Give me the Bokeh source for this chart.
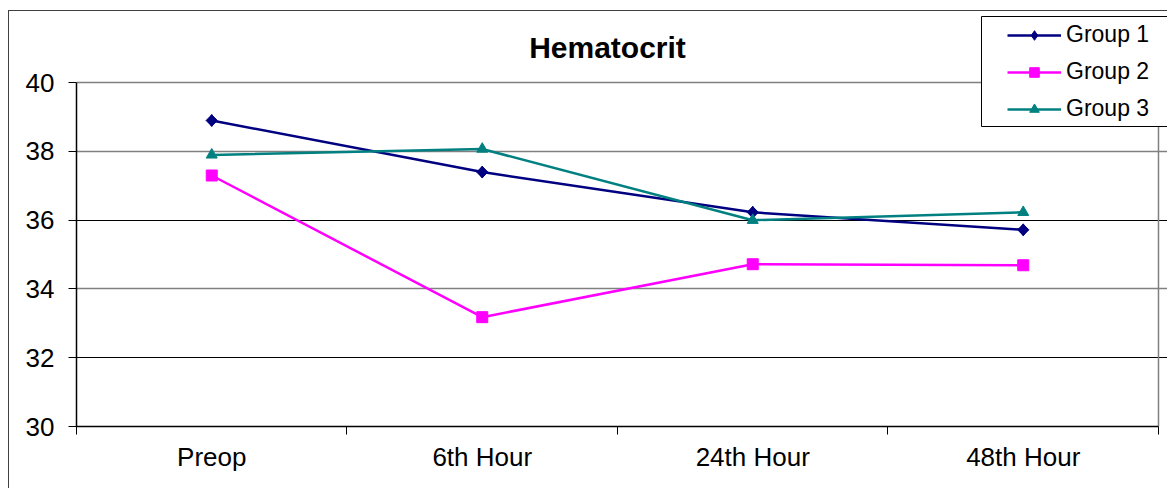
from bokeh.plotting import figure
from bokeh.models import FixedTicker, Grid, Legend, LegendItem, Range1d, Label, BoxAnnotation
from bokeh.embed import file_html
from bokeh.resources import INLINE

categories = ["Preop", "6th Hour", "24th Hour", "48th Hour"]
group1 = [38.9, 37.4, 36.23, 35.72]
group2 = [37.3, 33.18, 34.72, 34.69]
group3 = [37.9, 38.07, 36.0, 36.23]
y_ticks = [30, 32, 34, 36, 38, 40]
title_text = "Hematocrit"

FONT = "Liberation Sans"
n = len(categories)
xs = [i + 0.5 for i in range(n)]

# layout (page pixels)
OX, OY = 9, 11            # canvas origin on the page
FR_L, FR_B = 76, 425      # frame left / bottom
AX_T, AX_R = 82, 1157     # top (y=40) and right (x=n) of plot area
W, H = 1167 - OX + 1, 488 - OY + 1
ymin, ymax = y_ticks[0], y_ticks[-1]
ppu_y = (FR_B - AX_T) / (ymax - ymin)
ppu_x = (AX_R - FR_L) / n
y_end = ymax + (AX_T - OY) / ppu_y
x_end = n + (1167 - AX_R) / ppu_x

p = figure(width=W, height=H, output_backend="svg", toolbar_location=None,
           x_range=Range1d(0, x_end), y_range=Range1d(ymin, y_end),
           min_border_left=FR_L - OX, min_border_right=0, min_border_top=0,
           min_border_bottom=488 - FR_B)
p.title = None
p.background_fill_color = "white"
p.border_fill_color = "white"
p.outline_line_color = None
p.styles = {"margin-left": "8px", "margin-top": "10px",
            "border-left": "1px solid #404040", "border-top": "1px solid #404040"}

p.xgrid.visible = False
p.ygrid.visible = False
p.add_layout(Grid(dimension=1, ticker=FixedTicker(ticks=[34, 38, 40]), bounds=(0, n),
                  grid_line_color="#808080", grid_line_width=1.5))
p.add_layout(Grid(dimension=1, ticker=FixedTicker(ticks=[32, 36]), bounds=(0, n),
                  grid_line_color="#000000", grid_line_width=1))
p.segment(x0=[n], y0=[ymin], x1=[n], y1=[ymax], line_color="#808080", line_width=1.5)

p.yaxis.ticker = FixedTicker(ticks=y_ticks)
p.yaxis.bounds = (ymin, ymax)
p.yaxis.major_label_text_font = FONT
p.yaxis.major_label_text_font_size = "26px"
p.yaxis.major_label_text_color = "black"
p.yaxis.major_tick_out = 8
p.yaxis.major_tick_in = 0
p.yaxis.minor_tick_line_color = None
p.yaxis.axis_line_color = "black"
p.yaxis.axis_line_width = 1.5
p.yaxis.major_tick_line_color = "black"
p.yaxis.major_label_standoff = 14

p.xaxis.ticker = FixedTicker(ticks=xs, minor_ticks=list(range(n + 1)))
p.xaxis.bounds = (0, n)
p.xaxis.major_label_overrides = {x: c for x, c in zip(xs, categories)}
p.xaxis.major_label_text_font = FONT
p.xaxis.major_label_text_font_size = "26px"
p.xaxis.major_label_text_color = "black"
p.xaxis.major_tick_line_color = None
p.xaxis.minor_tick_out = 8
p.xaxis.minor_tick_in = 0
p.xaxis.minor_tick_line_color = "black"
p.xaxis.axis_line_color = "black"
p.xaxis.axis_line_width = 1.5
p.xaxis.major_label_standoff = 7

p.add_layout(Label(x=607 - FR_L, y=FR_B - 46, x_units="screen", y_units="screen",
                   text=title_text, text_font=FONT, text_font_size="30px",
                   text_font_style="bold", text_color="black",
                   text_align="center", text_baseline="middle"))

# (name, values, colour, plot marker, size, angle, legend marker, legend size)
series = [("Group 1", group1, "#000080", "square", 8, 0.785398, "diamond", 12),
          ("Group 2", group2, "#FF00FF", "square", 11, 0.0, "square", 11),
          ("Group 3", group3, "#008080", "triangle", 11, 0.0, "triangle", 11)]
items = []
for name, vals, col, mk, sz, ang, lmk, lsz in series:
    r1 = p.line(xs, vals, line_color=col, line_width=2.5)
    if lmk == mk and ang == 0.0:
        r2 = p.scatter(xs, vals, marker=mk, size=sz, fill_color=col, line_color=col)
        items.append(LegendItem(label=name, renderers=[r1, r2]))
    else:
        r3 = p.scatter(xs, vals, marker=lmk, size=lsz, fill_color=col, line_color=col)
        p.scatter(xs, vals, marker=mk, size=sz, angle=ang, fill_color=col, line_color=col)
        items.append(LegendItem(label=name, renderers=[r1, r3]))

# legend frame
p.add_layout(BoxAnnotation(left=981 - FR_L, right=1200 - FR_L, top=FR_B - 15, bottom=FR_B - 125,
                           left_units="screen", right_units="screen",
                           top_units="screen", bottom_units="screen",
                           fill_color="white", fill_alpha=1.0,
                           line_color="black", line_width=1, line_alpha=1.0))

legend = Legend(items=items, location=(1007 - FR_L, FR_B - 121))
legend.label_text_font = FONT
legend.label_text_font_size = "23px"
legend.label_text_color = "black"
legend.border_line_color = None
legend.background_fill_alpha = 0
legend.glyph_width = 54
legend.glyph_height = 24
legend.label_height = 24
legend.spacing = 10
legend.padding = 0
legend.margin = 0
legend.label_standoff = 5
p.add_layout(legend, "center")

open("out.html", "w").write(file_html(p, INLINE))
